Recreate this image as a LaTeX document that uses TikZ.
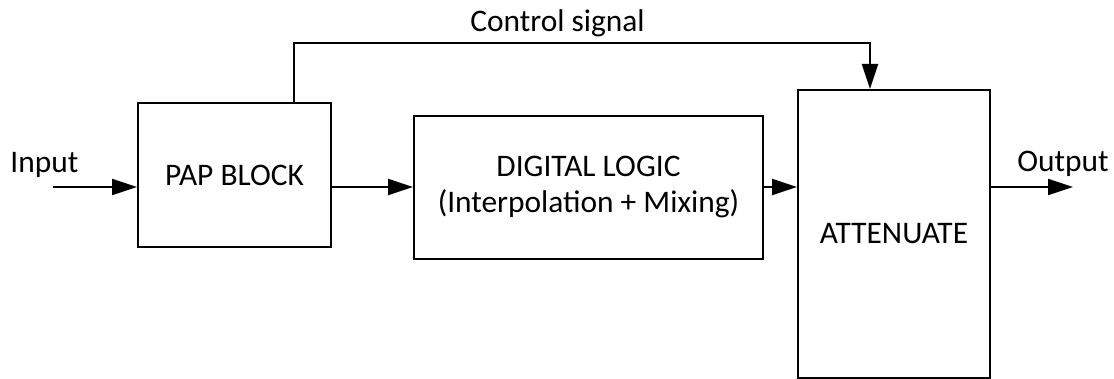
\documentclass[tikz,border=0pt]{standalone}
\usepackage{fontspec}
\setmainfont{Carlito}
\usetikzlibrary{arrows.meta}
\begin{document}
\begin{tikzpicture}[x=0.5pt,y=-0.5pt,
  blk/.style={draw,line width=1pt,inner sep=0pt,align=center,font=\fontsize{15.7}{18}\selectfont},
  lbl/.style={inner sep=0pt,anchor=base west,font=\fontsize{15.7}{18}\selectfont},
  arr/.style={line width=1pt,-{Triangle[length=12.5pt,width=8pt]}},
  ln/.style={line width=1pt}]
\useasboundingbox (0,0) rectangle (1114,379);
\node[blk,minimum width=96.5pt,minimum height=72pt] (pap) at (234.5,175) {PAP BLOCK};
\node[blk,minimum width=174.5pt,minimum height=71.5pt] (dl) at (588.5,187.5) {DIGITAL LOGIC\\(Interpolation + Mixing)};
\node[blk,minimum width=96pt,minimum height=144pt] (att) at (894,234) {ATTENUATE};
\node[lbl] (inl) at (10,173) {Input};
\node[lbl] (outl) at (1017,172) {Output};
\node[lbl] (ctl) at (470,32) {Control signal};
\coordinate (in) at (53,187);
\coordinate (out) at (1073,187);
\coordinate (c1) at (294,43);
\coordinate (c2) at (870,43);
\draw[arr] (in) -- (in -| pap.west);
\draw[arr] (pap.east |- in) -- (dl.west |- in);
\draw[arr] (dl.east |- in) -- (att.west |- in);
\draw[arr] (att.east |- out) -- (out);
\draw[arr] (c1 |- pap.north) -- (c1) -- (c2) -- (c2 |- att.north);
\end{tikzpicture}
\end{document}
